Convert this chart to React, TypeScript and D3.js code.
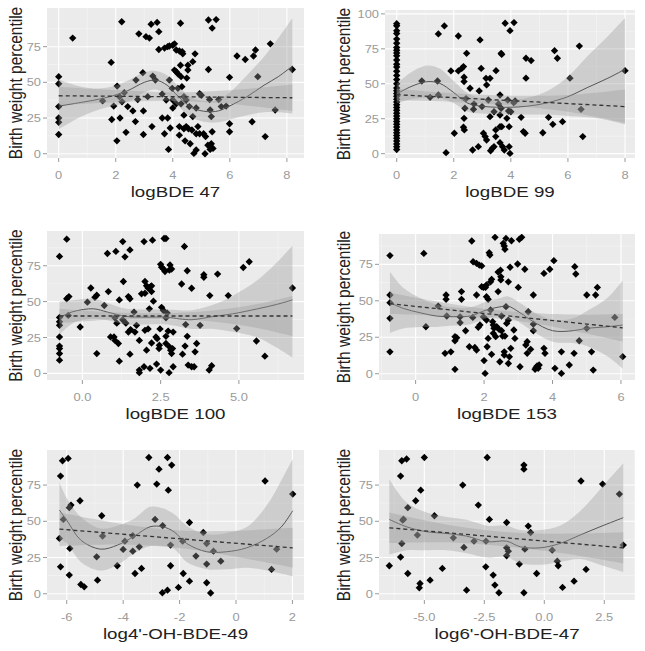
import React from "react";
import * as d3 from "d3";

// ---- data: [x, birth weight percentile] ----
const bde47Points: number[][] = [
  [0,54],[0,49],[0,33],[0,25],[0,22],[0,13.5],[0.49,81],[2.21,92.5],[1.84,64],[1.86,24],[2.04,9],[2.15,25],
  [2.36,15],[2.42,33],[2.6,30],[2.69,22.5],[2.81,84],[3.06,82],[3.18,81],[2.97,30],[2.97,13.5],[3.24,90.7],
  [3.45,92],[3.51,85.5],[3.51,73],[3.27,19],[3.63,25],[3.71,74],[3.71,14],[3.82,75],[3.88,75.5],[4.0,76],
  [4.06,77],[3.82,25],[3.85,3],[3.91,18],[4.0,37.6],[4.0,32],[4.06,58.6],[4.12,57.5],[4.12,72.7],[4.18,56],
  [4.23,72],[4.27,91.4],[4.27,62],[4.33,71.5],[4.35,70],[4.29,54],[4.23,19],[4.23,13],[4.32,47],[4.39,40],
  [4.39,27],[4.39,17.5],[4.43,9],[4.47,19],[4.49,53],[4.53,62],[4.53,58.6],[4.55,17.5],[4.61,7],[4.67,16.6],
  [4.7,26],[4.7,64.5],[4.78,70],[4.74,0.2],[4.82,2.6],[4.88,19],[4.82,14],[4.94,14],[5.08,14],[5.15,12],
  [5.13,0],[5.25,93.7],[5.38,88],[5.52,94],[5.25,59],[5.23,6],[5.29,5],[5.35,7],[5.41,3.7],[5.31,3],
  [5.38,15.4],[5.99,53.5],[5.99,21],[5.99,15.4],[6.25,68.5],[6.54,66],[6.83,68.5],[6.9,72.7],[6.78,22.4],
  [7.24,12],[7.42,77],[8.19,59],
  [1.54,37],[2.05,47.4],[1.93,33.4],[2.13,40],[2.3,42.8],[2.22,36.4],[2.71,51.6],[2.77,38],[2.95,56.8],
  [3.12,40],[3.3,54.4],[3.39,51.6],[3.63,41.8],[3.88,51.6],[3.98,45.8],[3.77,37.6],[4.18,45.8],[4.12,35],
  [4.47,37.6],[4.58,33],[4.29,35],[4.94,42],[5.0,41],[4.82,32],[5.29,38],[5.31,30.6],[5.35,26],[5.61,38],
  [5.7,33],[5.87,33.4],[6.98,54],[7.59,30.6],
];
// [x, fit, lower, upper]
const bde47Loess: number[][] = [
  [0,33.4,17,52],[0.8,36,26,47],[1.6,39,32,46],[2.4,44,36,51],[3.0,50,43,57],[3.4,51.6,45,58],[3.8,48,41,55],
  [4.2,40,33,47],[4.7,32,25,39],[5.2,29.5,22,37],[5.6,30,22,38],[6.0,33.5,24,43],[6.6,40,27,55],
  [7.2,48,29,68],[7.7,54,29,81],[8.19,61.4,28,95],
];
const bde47Lm: number[][] = [
  [0,40.6,34,47],[2,40.3,36,44.6],[4,40,37,43],[6,39.6,35,44.5],[8.19,39.2,30,48.5],
];

const bde99Points: number[][] = [
  [0,93],[0,91.5],[0,88],[0,86],[0,82],[0,79],[0,76],[0,74],[0,72],[0,70],[0,67],[0,64],[0,62],[0,59],
  [0,56],[0,53],[0,50],[0,47],[0,45],[0,43],[0,41],[0,39],[0,37],[0,35],[0,33],[0,31],[0,29],[0,27],[0,25],
  [0,23],[0,21],[0,19],[0,17],[0,15],[0,13],[0,11],[0,9],[0,7],[0,5],[0,3],
  [1.46,85.7],[1.67,91.4],[1.73,0.7],[1.9,59.2],[2.02,14.6],[0.88,52],[1.43,52],[1.17,40.3],[1.46,42],
  [2.16,84.2],[2.16,59.2],[2.28,61],[2.34,62.3],[2.36,54.7],[2.36,51.6],[2.36,25.3],[2.34,18.9],[2.37,17],
  [2.45,71.8],[2.39,32.5],[2.43,39.4],[2.57,46.8],[2.69,31.7],[2.71,35.6],[2.92,81.4],[2.66,2.6],[2.86,5],
  [2.89,44.9],[2.96,61],[2.99,33.7],[3.04,14.6],[3.1,12.2],[3.15,9.8],[3.13,53.9],[3.15,49.2],[3.21,38.4],
  [3.27,53.9],[3.27,26.5],[3.29,2.1],[3.35,3.8],[3.41,5],[3.41,30],[3.48,59.4],[3.47,12.2],[3.47,17],
  [3.57,35.6],[3.62,7.9],[3.66,71.8],[3.68,71],[3.62,19.3],[3.68,19.3],[3.62,27.7],[3.66,32.5],[3.62,42],
  [3.71,5],[3.77,2.6],[3.8,93.3],[3.86,25.3],[3.89,38.4],[3.92,30.5],[3.97,88],[3.94,19.3],[3.94,5],
  [3.97,0.2],[4.11,93.8],[4.15,37.7],[4.1,36.5],[4.0,30],[4.36,26],[4.44,15.8],[4.5,14.6],[4.53,68.3],
  [4.71,66.6],[4.53,54],[5.12,15],[5.32,26],[5.47,21],[5.53,73.7],[5.63,68.3],[5.81,22.9],[6.07,54],
  [6.4,77],[6.52,12.2],[6.46,31.7],[8.0,59.4],
];
const bde99Loess: number[][] = [
  [0,42.7,36,50],[0.5,48,39,58],[1.05,51.5,40,63],[1.5,50.4,40,61],[2.0,43.7,36,52],[2.5,36,30,43],
  [3.1,33.7,28.5,39],[3.9,33.2,28,38.5],[4.6,34,28,40],[5.3,36.5,28,45],[6.0,40.8,27,55],[6.7,47.5,26,70],
  [7.4,54,24,84],[8.0,60.4,21,97],
];
const bde99Lm: number[][] = [
  [0,42.2,38,46.5],[2,40.1,37,43.2],[4,38,34.5,41.5],[6,36,30,42],[8,33.7,22,46],
];

const bde100Points: number[][] = [
  [-0.73,81.5],[-0.73,39],[-0.73,36],[-0.73,33.5],[-0.73,25.4],[-0.73,19],[-0.73,17.3],[-0.73,13.8],
  [-0.73,9.2],[-0.5,93.5],[-0.5,52],[-0.43,53.5],[-0.45,40.4],[-0.07,32.3],[0.27,59.5],[0.16,49.6],[0.4,53],
  [0.46,54.5],[0.46,13.8],[0.7,47.3],[0.8,83.5],[0.83,57],[0.9,25.4],[1.01,25.4],[1.04,23],[1.07,85],
  [1.04,38.8],[1.1,35],[1.15,20.8],[1.18,8.5],[1.18,51.2],[1.29,91.8],[1.31,64],[1.36,81.2],[1.52,86],
  [1.29,37.4],[1.39,35],[1.47,53.5],[1.52,52],[1.47,28.8],[1.52,13.4],[1.54,30.5],[1.65,42.7],[1.68,28.8],
  [1.73,33.5],[1.82,23],[1.82,2.3],[1.82,0.5],[1.97,91.8],[1.97,4.6],[2.0,64],[2.0,30],[2.05,16.2],[2.05,61],
  [2.1,59.5],[2.1,31],[1.89,55.4],[2.0,55.8],[2.18,60.5],[2.21,61],[2.21,57],[2.24,92.8],[2.21,21.2],
  [2.14,45],[2.16,3.5],[2.27,50.3],[2.35,25.4],[2.37,6.5],[2.39,24.2],[2.45,17.3],[2.46,19.6],[2.48,31],
  [2.5,76],[2.53,74],[2.5,2.3],[2.53,46],[2.59,43.8],[2.61,94],[2.67,94],[2.59,72.7],[2.64,71],[2.67,20.8],
  [2.67,25.8],[2.71,42],[2.74,29.5],[2.77,0.5],[2.78,72],[2.8,75.6],[2.78,18.5],[2.82,16.2],[2.85,72.7],
  [2.85,13.8],[2.88,17.3],[2.9,28.8],[2.9,4.6],[2.67,38.8],[3.17,62.3],[3.26,88.4],[3.2,13.4],[3.28,19],
  [3.3,34],[3.35,71.5],[3.35,25.8],[3.38,5.8],[3.49,59.3],[3.49,4.6],[3.57,4.6],[3.6,15],[3.65,20.8],
  [3.76,33.5],[3.88,68.8],[3.88,67],[4.07,54.2],[4.05,2.3],[4.13,5.3],[4.32,69.2],[4.66,54.2],[4.93,31.2],
  [5.14,73.8],[5.33,77.8],[5.56,22.6],[5.83,12],[6.71,59.5],
];
const bde100Loess: number[][] = [
  [-0.73,39,27,50],[-0.3,43,35,51],[0.35,45,38,52],[0.8,42.7,37,49],[1.4,39.7,34,45],[2.0,39.2,34,44.5],
  [2.7,39.2,34,44.5],[3.1,38,32.5,44],[3.5,37.4,31,44],[4.2,39.7,31,48],[4.8,41.5,29,54],[5.6,45,25,65],
  [6.2,48,18,77],[6.71,51.2,11,89],
];
const bde100Lm: number[][] = [
  [-0.73,40,35,45],[1,40,37.5,42.5],[2.5,40,38,42],[4,40,36.5,43.5],[5.5,40,32,48],[6.71,40,26,54],
];

const bde153Points: number[][] = [
  [-0.75,81],[-0.75,54],[-0.75,48.7],[-0.75,38],[-0.75,15],[0.24,82.5],[0.3,32.2],[0.66,46.4],[0.89,54],
  [0.89,51],[0.91,39.6],[0.86,14],[1.03,15],[1.15,25.4],[1.15,22.6],[1.2,24.7],[1.15,3],[1.3,39],[1.3,35],
  [1.34,56.3],[1.34,51],[1.46,29.5],[1.57,18.5],[1.64,91],[1.67,38.6],[1.68,76.8],[1.73,18],[1.78,54],
  [1.78,75.7],[1.83,31.8],[1.86,74.5],[1.78,16.2],[1.88,33.4],[1.93,59.7],[1.93,73.9],[1.98,59.2],[1.98,39],
  [2.0,9],[2.03,0.2],[2.04,59.2],[2.07,60.8],[2.07,52.8],[2.07,36.8],[2.09,18.5],[2.12,51],[2.12,24.2],
  [2.15,83],[2.17,81.4],[2.19,43.7],[2.19,63],[2.22,64.7],[2.22,13.3],[2.25,35.7],[2.27,33.4],[2.27,27.7],
  [2.32,93.5],[2.29,31.1],[2.34,25.4],[2.37,32.2],[2.41,69.7],[2.41,56.3],[2.44,30.4],[2.46,8.2],[2.48,71],
  [2.49,66.5],[2.49,64.3],[2.51,39.6],[2.51,29.5],[2.54,25.8],[2.56,89.4],[2.59,87.6],[2.61,85.3],[2.59,15],
  [2.59,12.8],[2.61,25.8],[2.64,92.8],[2.64,46],[2.66,34.5],[2.71,7],[2.71,63],[2.71,36.8],[2.74,11.6],
  [2.76,73],[2.78,17.4],[2.8,91.2],[2.87,30],[2.9,24.2],[2.98,75.2],[3.0,59.2],[3.03,92.2],[3.1,93.5],
  [3.05,4.8],[3.19,71.6],[3.22,19.7],[3.26,22],[3.26,14],[3.29,42.5],[3.36,16.7],[3.44,54],[3.44,34],
  [3.44,29.5],[3.49,3],[3.52,4.3],[3.55,5.3],[3.58,3.7],[3.61,6],[3.75,68.8],[3.75,17.4],[3.78,14],
  [3.92,71.6],[4.04,77.5],[4.07,3.7],[4.26,15],[4.26,0.2],[4.49,6],[4.63,14],[4.65,73.4],[4.68,68.4],
  [4.78,22.6],[5.0,54],[5.0,31.1],[5.14,15],[5.19,2.5],[5.26,54],[5.31,59.2],[5.82,38.6],[6.05,11.7],
];
const bde153Loess: number[][] = [
  [-0.75,48.7,28,70],[-0.36,44.8,31,59],[0.13,41.8,32,52],[0.6,39.6,32,47.5],[1.1,39.1,33,45.5],
  [1.6,39.6,34,45.5],[2.07,43.7,38,49.5],[2.5,46,40,52],[2.7,46.4,40,53],[3.05,41.8,35,48.5],
  [3.44,35.7,29,42.5],[4.0,29.5,22,37],[4.6,29.5,21,38],[5.0,31.1,19,43],[5.6,32.2,12,52],[6.05,33.4,3.5,64],
];
const bde153Lm: number[][] = [
  [-0.75,48,41,55.5],[0.5,45,40,50],[2,41.5,38.5,44.5],[3.5,38,34.5,41.5],[5,34,27.5,40.5],[6.05,31.5,22,41],
];

const oh49Points: number[][] = [
  [-6.26,38.2],[-6.22,81.2],[-6.22,18.6],[-6.15,91.8],[-6.12,51.3],[-5.95,93.4],[-5.91,59.4],[-5.85,61.2],
  [-5.89,31.3],[-5.91,12.9],[-5.53,64.2],[-5.5,6.4],[-5.38,4.8],[-4.94,25.5],[-4.91,9.4],[-4.76,53.8],
  [-4.73,39.8],[-4.21,19.3],[-4.0,30.6],[-3.94,36.3],[-3.66,29.4],[-3.66,40],[-3.58,14],[-3.5,75],
  [-3.43,32.4],[-3.35,17.5],[-3.09,94],[-2.87,51.3],[-2.81,75.7],[-2.73,86],[-2.6,47],[-2.61,0.7],
  [-2.43,94],[-2.4,71.5],[-2.43,2.5],[-2.28,88.8],[-2.32,33.6],[-2.32,19.3],[-2.04,4.4],[-1.89,36.3],
  [-1.87,14],[-1.65,49.2],[-1.65,8.7],[-1.42,26],[-1.16,42.3],[-1.04,34.7],[-1.04,20.5],[-1.04,7.6],
  [-0.9,0.5],[-0.8,29.4],[-0.54,22.5],[1.03,77.8],[1.26,16.8],[1.44,30.8],[2.01,68.8],
];
const oh49Loess: number[][] = [
  [-6.26,57.7,38,77],[-6.0,50.8,35,66],[-5.5,37,22,53],[-4.8,30.8,16,45],[-4.2,33.6,20,47],[-3.6,39.8,28,52],
  [-3.05,46.2,33,60],[-2.6,46.2,33,59],[-2.2,42.8,31,55],[-1.75,34.7,22,47],[-1.04,29,17,41],
  [-0.33,29,17,42],[0.38,31.7,18,46],[1.09,38.2,16,61],[1.6,46,14,78],[2.01,57.3,12,93],
];
const oh49Lm: number[][] = [
  [-6.26,44.6,33,56],[-4,41,34,48],[-2,37.6,31.5,43.7],[0,34.5,25.5,43.5],[2.01,31.7,18,45.5],
];

const oh47Points: number[][] = [
  [-6.46,19.3],[-5.99,81.2],[-5.99,25.3],[-5.94,91.8],[-5.9,50.8],[-5.87,51.5],[-5.94,34.7],[-5.74,93],
  [-5.69,59.4],[-5.69,14],[-5.36,64.2],[-5.29,40.5],[-5.21,4.1],[-5.18,7.1],[-5.15,71.5],[-5.0,94],
  [-4.76,9.4],[-4.58,53.8],[-4.25,17.5],[-3.79,38.6],[-3.4,75],[-3.35,32],[-3.24,2.5],[-2.93,36.3],
  [-2.75,61.2],[-2.44,18.6],[-2.43,36.3],[-2.38,94],[-2.29,51.3],[-2.13,12.9],[-2.06,6],[-1.89,0.7],
  [-1.57,49.2],[-1.57,31.7],[-1.57,26.2],[-1.5,29.4],[-1.04,20.5],[-0.85,88.8],[-0.85,86],[-0.85,0.7],
  [-0.81,30.8],[-0.67,46.7],[-0.57,42.3],[-0.32,14],[0.33,30.1],[0.54,22.5],[0.58,19.3],[0.76,4.4],
  [1.24,8.7],[1.53,77.8],[1.74,16.8],[2.43,75.7],[3.13,68.8],[3.29,33.6],
];
const oh47Loess: number[][] = [
  [-6.46,51.3,27,79],[-5.74,46.2,30,63],[-4.9,42.8,30,56],[-4.07,41.6,30,53],[-3.24,39.8,28,51],
  [-2.4,35.9,25,47],[-1.57,36.3,25.5,47],[-1.0,32.4,21,44],[-0.18,31.7,20,44],[0.65,34.7,22,47],
  [1.49,40.5,24,57],[2.32,46.2,20,72],[3.29,52.5,15,90],
];
const oh47Lm: number[][] = [
  [-6.46,45.5,35,56],[-4,41.5,35.5,47.5],[-1.5,37.5,32.5,42.5],[1,34.5,27.5,41.5],[3.29,31.7,21,42.5],
];

const xTitles = ["logBDE 47", "logBDE 99", "logBDE 100", "logBDE 153", "log4'-OH-BDE-49", "log6'-OH-BDE-47"];
const yTitle = "Birth weight percentile";
const yTicksStd = [0, 25, 50, 75];
const yTicks99 = [0, 25, 50, 75, 100];

const FONT = "'Liberation Sans', Arial, Helvetica, sans-serif";

type Spec = {
  title: string; points: number[][]; loess: number[][]; lm: number[][];
  xDomain: number[]; yDomain: number[]; xTicks: number[]; yTicks: number[]; digits: number;
  left: number; right: number; top: number; bottom: number; yTitleX: number;
};

const specs: Spec[] = [
  { title: xTitles[0], points: bde47Points, loess: bde47Loess, lm: bde47Lm, xDomain: [-0.41, 8.6], yDomain: [-3, 102.1],
    xTicks: [0, 2, 4, 6, 8], yTicks: yTicksStd, digits: 0, left: 47, right: 304, top: 8, bottom: 158, yTitleX: 22 },
  { title: xTitles[1], points: bde99Points, loess: bde99Loess, lm: bde99Lm, xDomain: [-0.41, 8.35], yDomain: [-3.1, 102.8],
    xTicks: [0, 2, 4, 6, 8], yTicks: yTicks99, digits: 0, left: 385, right: 635, top: 10, bottom: 158, yTitleX: 350 },
  { title: xTitles[2], points: bde100Points, loess: bde100Loess, lm: bde100Lm, xDomain: [-1.13, 7.08], yDomain: [-4.6, 99.2],
    xTicks: [0, 2.5, 5], yTicks: yTicksStd, digits: 1, left: 47, right: 304, top: 231, bottom: 380, yTitleX: 22 },
  { title: xTitles[3], points: bde153Points, loess: bde153Loess, lm: bde153Lm, xDomain: [-1.07, 6.41], yDomain: [-4.3, 95.8],
    xTicks: [0, 2, 4, 6], yTicks: yTicksStd, digits: 0, left: 379, right: 635, top: 234, bottom: 380, yTitleX: 350 },
  { title: xTitles[4], points: oh49Points, loess: oh49Loess, lm: oh49Lm, xDomain: [-6.7, 2.41], yDomain: [-4.3, 99.2],
    xTicks: [-6, -4, -2, 0, 2], yTicks: yTicksStd, digits: 0, left: 47, right: 304, top: 450, bottom: 600, yTitleX: 22 },
  { title: xTitles[5], points: oh47Points, loess: oh47Loess, lm: oh47Lm, xDomain: [-6.89, 3.78], yDomain: [-4.3, 99.2],
    xTicks: [-5, -2.5, 0, 2.5], yTicks: yTicksStd, digits: 1, left: 379, right: 635, top: 450, bottom: 600, yTitleX: 350 },
];

function minorOf(ticks: number[], dom: number[]) {
  const step = ticks[1] - ticks[0];
  const out: number[] = [];
  for (let v = ticks[0] - step / 2; v <= dom[1]; v += step) if (v >= dom[0]) out.push(v);
  return out;
}

const diamond = d3.symbol(d3.symbolSquare, 27)() as string;

function Panel({ s, i }: { s: Spec; i: number }) {
  const x = d3.scaleLinear().domain(s.xDomain).range([s.left, s.right]);
  const y = d3.scaleLinear().domain(s.yDomain).range([s.bottom, s.top]);
  const band = d3.area<number[]>().x(d => x(d[0])).y0(d => y(d[2])).y1(d => y(d[3])).curve(d3.curveCatmullRom);
  const fit = d3.line<number[]>().x(d => x(d[0])).y(d => y(d[1])).curve(d3.curveCatmullRom);
  const lmLine = d3.line<number[]>().x(d => x(d[0])).y(d => y(d[1]));
  const cx = (s.left + s.right) / 2;
  const cy = (s.top + s.bottom) / 2;
  const clip = `clip${i}`;
  return (
    <g>
      <defs>
        <clipPath id={clip}><rect x={s.left} y={s.top} width={s.right - s.left} height={s.bottom - s.top} /></clipPath>
      </defs>
      <rect x={s.left} y={s.top} width={s.right - s.left} height={s.bottom - s.top} fill="#EBEBEB" />
      {minorOf(s.xTicks, s.xDomain).map(v => (
        <line key={"mx" + v} x1={x(v)} x2={x(v)} y1={s.top} y2={s.bottom} stroke="#F4F4F4" strokeWidth={0.7} />
      ))}
      {minorOf(s.yTicks, s.yDomain).map(v => (
        <line key={"my" + v} x1={s.left} x2={s.right} y1={y(v)} y2={y(v)} stroke="#F4F4F4" strokeWidth={0.7} />
      ))}
      {s.xTicks.map(v => (
        <line key={"gx" + v} x1={x(v)} x2={x(v)} y1={s.top} y2={s.bottom} stroke="#fff" strokeWidth={1.1} />
      ))}
      {s.yTicks.map(v => (
        <line key={"gy" + v} x1={s.left} x2={s.right} y1={y(v)} y2={y(v)} stroke="#fff" strokeWidth={1.1} />
      ))}
      <g clipPath={`url(#${clip})`}>
        {s.points.map((d, k) => (
          <path key={k} d={diamond} transform={`translate(${x(d[0])},${y(d[1])}) rotate(45)`} fill="#000" />
        ))}
        <path d={band(s.loess) as string} fill="#999" fillOpacity={0.36} />
        <path d={fit(s.loess) as string} fill="none" stroke="#555" strokeWidth={1} />
        <path d={band(s.lm) as string} fill="#999" fillOpacity={0.36} />
        <path d={lmLine([s.lm[0], s.lm[s.lm.length - 1]]) as string} fill="none" stroke="#333" strokeWidth={1.3} strokeDasharray="4,3" />
      </g>
      {s.xTicks.map(v => (
        <g key={"tx" + v}>
          <line x1={x(v)} x2={x(v)} y1={s.bottom} y2={s.bottom + 4} stroke="#999" />
          <text transform={`translate(${x(v)},${s.bottom + 21}) scale(1.12,1)`} textAnchor="middle" fontSize={11.5} fill="#9a9a9a" fontFamily={FONT}>
            {v.toFixed(s.digits)}
          </text>
        </g>
      ))}
      {s.yTicks.map(v => (
        <g key={"ty" + v}>
          <line x1={s.left - 4} x2={s.left} y1={y(v)} y2={y(v)} stroke="#999" />
          <text transform={`translate(${s.left - 6},${y(v) + 4}) scale(1.12,1)`} textAnchor="end" fontSize={11.5} fill="#9a9a9a" fontFamily={FONT}>
            {v}
          </text>
        </g>
      ))}
      <text transform={`translate(${cx},${s.bottom + 39}) scale(1.25,1)`} textAnchor="middle" fontSize={15} fill="#222" fontFamily={FONT}>
        {s.title}
      </text>
      <text transform={`translate(${s.yTitleX},${cy}) scale(1.2,1) rotate(-90)`} textAnchor="middle" fontSize={15.5} fill="#222" fontFamily={FONT}>
        {yTitle}
      </text>
    </g>
  );
}

export default function App() {
  return (
    <svg width={645} height={651} style={{ position: "absolute", left: 0, top: 0, background: "#fff" }}>
      <rect width={645} height={651} fill="#fff" />
      {specs.map((s, i) => <Panel key={i} s={s} i={i} />)}
    </svg>
  );
}
